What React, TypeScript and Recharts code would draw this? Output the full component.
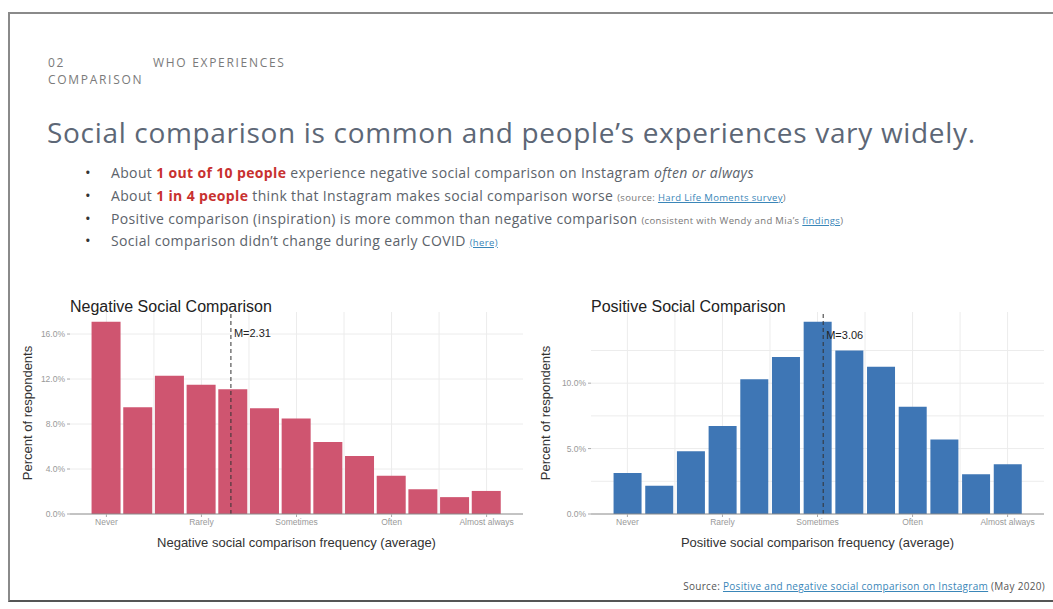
import React from "react";
import {
  ComposedChart,
  Bar,
  XAxis,
  YAxis,
  CartesianGrid,
  ReferenceLine,
  ReferenceDot,
} from "recharts";

// bin centres on the 1..5 frequency scale (13 bins of 1/3)
const BINS = [1, 4 / 3, 5 / 3, 2, 7 / 3, 8 / 3, 3, 10 / 3, 11 / 3, 4, 13 / 3, 14 / 3, 5];
const FREQ_TICKS = [1, 2, 3, 4, 5];
const FREQ_LABELS = ["Never", "Rarely", "Sometimes", "Often", "Almost always"];

const NEGATIVE_PCT = [17.1, 9.5, 12.3, 11.5, 11.1, 9.4, 8.5, 6.4, 5.15, 3.4, 2.2, 1.5, 2.05];
const POSITIVE_PCT = [3.13, 2.16, 4.8, 6.72, 10.3, 12.0, 14.7, 12.5, 11.25, 8.2, 5.7, 3.03, 3.8];

const NEG_Y_TICKS = [0, 4, 8, 12, 16];
const NEG_Y_GRID = [2, 4, 6, 8, 10, 12, 14, 16];
const POS_Y_TICKS = [0, 5, 10];
const POS_Y_GRID = [2.5, 5, 7.5, 10, 12.5];
const X_GRID = [1, 1.5, 2, 2.5, 3, 3.5, 4, 4.5, 5];

const NEG_MEAN = 2.31;
const POS_MEAN = 3.06;

const CHART_FONT = "'Liberation Sans', Arial, sans-serif";

interface HistProps {
  values: number[];
  color: string;
  title: string;
  xTitle: string;
  yTicks: number[];
  yGrid: number[];
  yMax: number;
  mean: number;
  meanLabelY: number;
  left: number;
  width: number;
  yAxisWidth: number;
  yLabelOffset: number;
  barSize: number;
}

function Histogram({
  values,
  color,
  title,
  xTitle,
  yTicks,
  yGrid,
  yMax,
  mean,
  meanLabelY,
  left,
  width,
  yAxisWidth,
  yLabelOffset,
  barSize,
}: HistProps) {
  const data = BINS.map((x, i) => ({ x, pct: values[i] }));
  return (
    <div style={{ position: "absolute", left, top: 290, width, height: 265 }}>
      <div
        style={{
          position: "absolute",
          left: yAxisWidth,
          top: 7,
          fontFamily: CHART_FONT,
          fontSize: 16,
          lineHeight: "19px",
          color: "#222",
          whiteSpace: "nowrap",
        }}
      >
        {title}
      </div>
      <ComposedChart
        width={width}
        height={265}
        data={data}
        margin={{ top: 22, right: width - yAxisWidth - 453, bottom: 0, left: 0 }}
        style={{ fontFamily: CHART_FONT }}
      >
        <CartesianGrid
          stroke="#ececec"
          horizontalValues={yGrid}
          verticalValues={X_GRID}
        />
        <XAxis
          dataKey="x"
          type="number"
          domain={[0.617, 5.383]}
          ticks={FREQ_TICKS}
          tickFormatter={(v: number) => FREQ_LABELS[Math.round(v) - 1]}
          tick={{ fill: "#999", fontSize: 8.5 }}
          tickSize={3}
          tickLine={{ stroke: "#aaa" }}
          axisLine={{ stroke: "#888" }}
          interval={0}
          height={41}
          allowDataOverflow
          label={{
            value: xTitle,
            position: "insideBottom",
            offset: 8,
            fill: "#333",
            fontSize: 13,
          }}
        />
        <YAxis
          type="number"
          domain={[0, yMax]}
          ticks={yTicks}
          tickFormatter={(v: number) => `${v.toFixed(1)}%`}
          tick={{ fill: "#999", fontSize: 8.5 }}
          tickSize={3}
          tickLine={{ stroke: "#aaa" }}
          axisLine={false}
          width={yAxisWidth}
          allowDataOverflow
          label={{
            value: "Percent of respondents",
            angle: -90,
            position: "insideLeft",
            offset: yLabelOffset,
            fill: "#333",
            fontSize: 13,
            style: { textAnchor: "middle" },
          }}
        />
        <Bar dataKey="pct" fill={color} barSize={barSize} isAnimationActive={false} />
        <ReferenceLine x={mean} stroke="#333" strokeDasharray="4 3" strokeWidth={1} />
        <ReferenceDot
          x={mean}
          y={meanLabelY}
          r={1}
          fill="none"
          stroke="none"
          label={{ value: `M=${mean.toFixed(2)}`, position: "right", offset: 2, fill: "#222", fontSize: 11 }}
        />
      </ComposedChart>
    </div>
  );
}

const textGray = "#5c636b";
const red = "#c8312f";
const link = "#3a86b8";

function Bullet({ top, children }: { top: number; children: React.ReactNode }) {
  return (
    <div
      style={{
        position: "absolute",
        left: 85,
        top,
        fontSize: 14,
        letterSpacing: 0.35,
        lineHeight: "16px",
        color: textGray,
        whiteSpace: "nowrap",
      }}
    >
      <span style={{ display: "inline-block", width: 26, color: "#333", letterSpacing: 0, fontSize: 15 }}>•</span>
      {children}
    </div>
  );
}

const small: React.CSSProperties = { fontSize: 9.5, letterSpacing: 0.35, color: "#777" };
const smallLink: React.CSSProperties = { fontSize: 9.5, letterSpacing: 0.35, color: link, textDecoration: "underline" };

export default function App() {
  return (
    <div
      style={{
        position: "absolute",
        left: 0,
        top: 0,
        width: 1053,
        height: 609,
        background: "#fff",
        overflow: "hidden",
        fontFamily: "'Open Sans', sans-serif",
      }}
    >
      <div
        style={{
          position: "absolute",
          left: 8,
          top: 12,
          width: 1044,
          height: 586,
          borderTop: "2px solid #8a8a8a",
          borderLeft: "2px solid #8a8a8a",
          borderBottom: "2px solid #555",
        }}
      />
      <div style={{ position: "absolute", left: 48, top: 54, fontSize: 12, letterSpacing: 1.7, color: "#7a7a7a", lineHeight: "17px" }}>
        02
        <br />
        COMPARISON
      </div>
      <div style={{ position: "absolute", left: 153, top: 54, fontSize: 12, letterSpacing: 1.7, color: "#7a7a7a", lineHeight: "17px" }}>
        WHO EXPERIENCES
      </div>
      <div
        style={{
          position: "absolute",
          left: 47,
          top: 115,
          fontSize: 28,
          letterSpacing: 0.68,
          lineHeight: "34px",
          color: "#5d6776",
          whiteSpace: "nowrap",
        }}
      >
        Social comparison is common and people’s experiences vary widely.
      </div>

      <Bullet top={164}>
        About <b style={{ color: red }}>1 out of 10 people</b> experience negative social comparison on Instagram{" "}
        <i>often or always</i>
      </Bullet>
      <Bullet top={187}>
        About <b style={{ color: red }}>1 in 4 people</b> think that Instagram makes social comparison worse{" "}
        <span style={small}>(source: </span>
        <span style={smallLink}>Hard Life Moments survey</span>
        <span style={small}>)</span>
      </Bullet>
      <Bullet top={210}>
        Positive comparison (inspiration) is more common than negative comparison{" "}
        <span style={small}>(consistent with Wendy and Mia’s </span>
        <span style={smallLink}>findings</span>
        <span style={small}>)</span>
      </Bullet>
      <Bullet top={232}>
        Social comparison didn’t change during early COVID <span style={smallLink}>(here)</span>
      </Bullet>

      <Histogram
        values={NEGATIVE_PCT}
        color="#cf5570"
        title="Negative Social Comparison"
        xTitle="Negative social comparison frequency (average)"
        yTicks={NEG_Y_TICKS}
        yGrid={NEG_Y_GRID}
        yMax={17.96}
        mean={NEG_MEAN}
        meanLabelY={16.1}
        left={0}
        width={540}
        yAxisWidth={70}
        yLabelOffset={27}
        barSize={29}
      />
      <Histogram
        values={POSITIVE_PCT}
        color="#3e76b5"
        title="Positive Social Comparison"
        xTitle="Positive social comparison frequency (average)"
        yTicks={POS_Y_TICKS}
        yGrid={POS_Y_GRID}
        yMax={15.44}
        mean={POS_MEAN}
        meanLabelY={13.7}
        left={530}
        width={523}
        yAxisWidth={61}
        yLabelOffset={15}
        barSize={28}
      />

      <div
        style={{
          position: "absolute",
          right: 8,
          top: 580,
          fontSize: 10,
          letterSpacing: 0.3,
          lineHeight: "12px",
          color: "#555",
          whiteSpace: "nowrap",
        }}
      >
        Source:{" "}
        <span style={{ color: link, textDecoration: "underline" }}>
          Positive and negative social comparison on Instagram
        </span>{" "}
        (May 2020)
      </div>
    </div>
  );
}
